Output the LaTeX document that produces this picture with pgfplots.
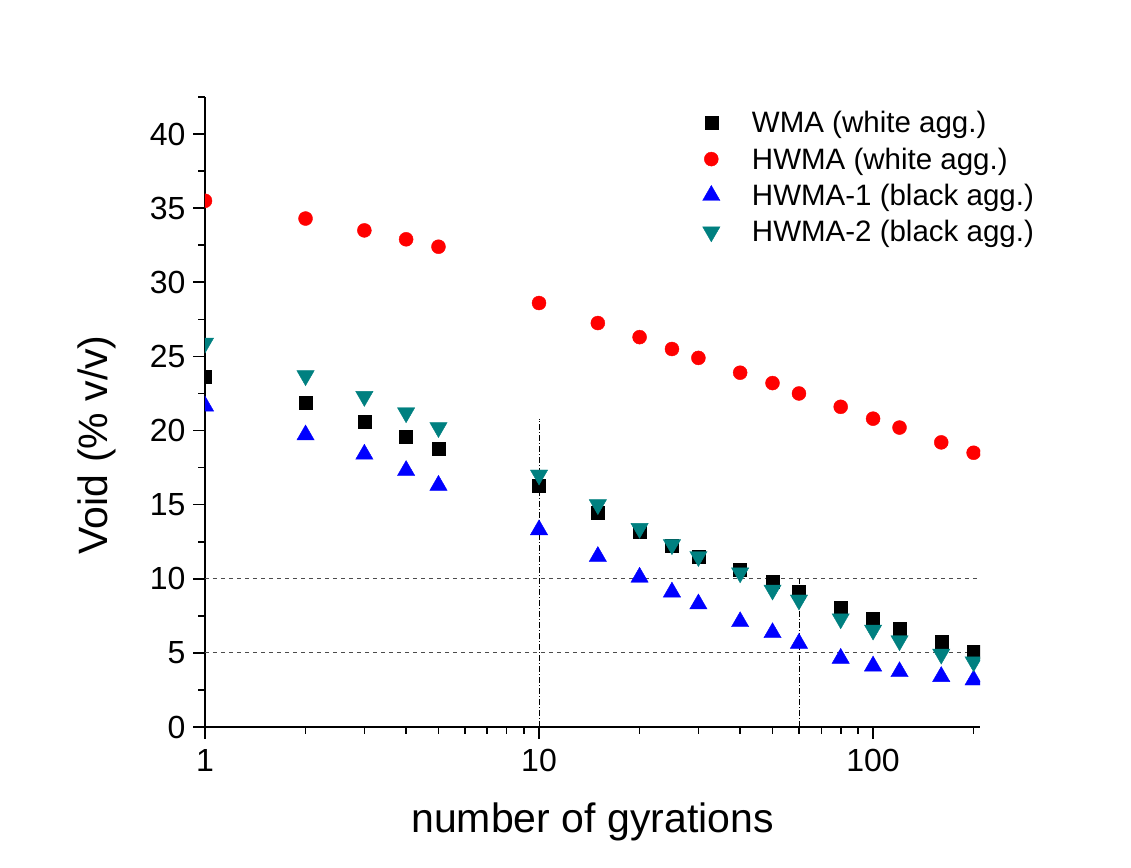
\documentclass[border=0pt]{standalone}
\usepackage{fontspec}
\setmainfont{Liberation Sans}
\usepackage{pgfplots}
\pgfplotsset{compat=1.18}
\usetikzlibrary{calc}
\definecolor{myteal}{RGB}{0,128,128}
\begin{document}
\begin{tikzpicture}
\begin{axis}[
 name=ax,
 scale only axis,
 width=775pt, height=630pt,
 xmode=log, xmin=1, xmax=209, ymin=0, ymax=42.5,
 axis lines*=left,
 axis line style={line width=1.6pt},
 every tick/.style={black, line width=1.6pt},
 major tick length=12pt, minor tick length=7pt,
 tick align=outside,
 xtick={1,10,100}, xticklabels={1,10,100},
 minor xtick={2,3,4,5,6,7,8,9,20,30,40,50,60,70,80,90,200},
 ytick={0,5,10,15,20,25,30,35,40},
 minor ytick={2.5,7.5,12.5,17.5,22.5,27.5,32.5,37.5,42.5},
 /pgf/number format/assume math mode=true,
 tick label style={font=\fontsize{32}{36}\selectfont},
 xticklabel style={yshift=-7pt},
 yticklabel style={xshift=-4pt},
 clip marker paths=true,
 xlabel={number of gyrations},
 ylabel={Void (\% v/v)},
 xlabel style={font=\fontsize{41}{48}\selectfont, at={(axis description cs:0.5,-0.15)}, anchor=center},
 ylabel style={font=\fontsize{41}{48}\selectfont, at={(axis description cs:-0.14,0.448)}, anchor=center},
 legend style={draw=none, fill=none, at={(0.638,0.984)}, anchor=north west,
   font=\fontsize{29.5}{34}\selectfont, row sep=9.5pt, column sep=30pt},
 legend cell align=left,
]
\addplot[forget plot, gray!60!black, line width=1pt, dash pattern=on 4pt off 4pt] coordinates {(1,10) (209,10)};
\addplot[forget plot, gray!60!black, line width=1pt, dash pattern=on 4pt off 4pt] coordinates {(1,5) (209,5)};
\addplot[forget plot, black, line width=0.8pt, dash pattern=on 6pt off 2pt on 1pt off 2pt] coordinates {(10,0) (10,20.8)};
\addplot[forget plot, black, line width=0.8pt, dash pattern=on 6pt off 2pt on 1pt off 2pt] coordinates {(60,0) (60,10)};

\addplot[only marks, mark=square*, mark size=6.5pt, black] coordinates {
(1,23.6) (2,21.9) (3,20.6) (4,19.6) (5,18.75) (10,16.26) (15,14.45) (20,13.2) (25,12.2) (30,11.5) (40,10.6) (50,9.8) (60,9.13) (80,8.05) (100,7.28) (120,6.61) (160,5.76) (200,5.08)};
\addlegendentry{WMA (white agg.)}
\addplot[only marks, mark=*, mark size=7pt, red, mark options={fill=red, draw=red}] coordinates {
(1,35.5) (2,34.3) (3,33.5) (4,32.9) (5,32.4) (10,28.6) (15,27.25) (20,26.3) (25,25.5) (30,24.9) (40,23.9) (50,23.2) (60,22.5) (80,21.6) (100,20.8) (120,20.2) (160,19.2) (200,18.5)};
\addlegendentry{HWMA (white agg.)}
\addplot[only marks, mark=triangle*, mark size=10pt, blue, mark options={fill=blue, draw=blue}] coordinates {
(1,21.65) (2,19.7) (3,18.4) (4,17.3) (5,16.3) (10,13.3) (15,11.5) (20,10.1) (25,9.1) (30,8.3) (40,7.1) (50,6.36) (60,5.64) (80,4.63) (100,4.11) (120,3.73) (160,3.4) (200,3.17)};
\addlegendentry{HWMA-1 (black agg.)}
\addplot[only marks, mark=triangle*, mark size=10pt, myteal, mark options={fill=myteal, draw=myteal, rotate=180}] coordinates {
(1,25.9) (2,23.7) (3,22.3) (4,21.2) (5,20.2) (10,17.0) (15,15.0) (20,13.4) (25,12.3) (30,11.5) (40,10.4) (50,9.24) (60,8.57) (80,7.3) (100,6.54) (120,5.82) (160,4.92) (200,4.4)};
\addlegendentry{HWMA-2 (black agg.)}
\end{axis}
\pgfresetboundingbox
\path[use as bounding box] ($(ax.south west)+(-205pt,-141pt)$) rectangle ($(ax.north east)+(151pt,97pt)$);
\end{tikzpicture}
\end{document}
